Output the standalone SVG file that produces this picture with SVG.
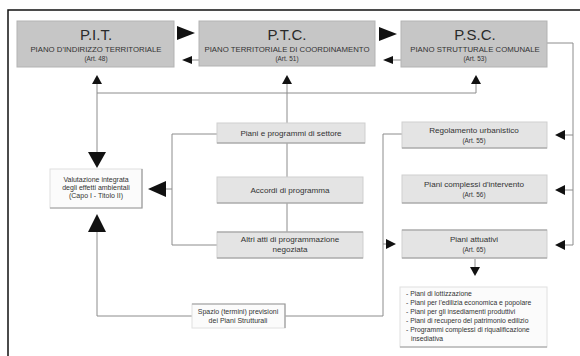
<svg xmlns="http://www.w3.org/2000/svg" width="580" height="356" viewBox="0 0 580 356">
  <style>
    .bg { fill: #ffffff; }
    .frame { fill: none; stroke: #111; stroke-width: 1.5; }
    .main { fill: #c6c6c6; stroke: #b3b3b3; stroke-width: 1; }
    .sub { fill: #e4e4e4; stroke: #cfcfcf; stroke-width: 1; }
    .shade { fill: none; stroke: #9a9a9a; stroke-width: 1.2; }
    .note { fill: #fbfbfb; stroke: #e0e0e0; stroke-width: 1; }
    .line { fill: none; stroke: #8c8c8c; stroke-width: 1; }
    .head { fill: #111; }
    .t { font-family: "Liberation Sans", Arial, sans-serif; fill: #333; text-anchor: middle; }
    .title { font-size: 15px; fill: #2a2a2a; }
    .cap { font-size: 7.8px; }
    .mid { font-size: 8.1px; }
    .small { font-size: 6.4px; }
    .note-t { font-size: 7px; }
    .lst { font-family: "Liberation Sans", Arial, sans-serif; fill: #333; font-size: 6.8px; }
  </style>

  <rect class="bg" x="0" y="0" width="580" height="356"/>
  <!-- page frame -->
  <path class="frame" d="M8,356 V10 H580"/>

  <!-- connectors -->
  <g id="connectors">
    <!-- top row links -->
    <polygon class="head" points="177,26 195,33 177,40"/>
    <polygon class="head" points="379,27 397,34 379,41"/>
    <path class="line" d="M192,60 H199"/>
    <polygon class="head" points="182,60 192,56 192,64"/>
    <path class="line" d="M393,60 H401"/>
    <polygon class="head" points="383,60 393,56 393,64"/>

    <!-- feedback bar below top row -->
    <path class="line" d="M97,83 V152 M287,83 V232 M476,83 V93 M97,93 H476"/>
    <polygon class="head" points="97,75 92,84 102,84"/>
    <polygon class="head" points="287,75 282,84 292,84"/>
    <polygon class="head" points="476,75 471,84 481,84"/>
    <polygon class="head" points="88,152 106,152 97,168"/>

    <!-- sector plans to valutazione -->
    <path class="line" d="M165,189 H172 M172,134 V245 M172,134 H217 M172,245 H217"/>
    <polygon class="head" points="148,189 166,181 166,197"/>

    <!-- PSC to operative tools -->
    <path class="line" d="M547,43 H573 V245 M565,135 H573 M565,190 H573 M565,245 H573"/>
    <polygon class="head" points="555,135 565,130 565,140"/>
    <polygon class="head" points="555,190 565,185 565,195"/>
    <polygon class="head" points="555,245 565,240 565,250"/>

    <!-- regolamento to piani attuativi and spazi -->
    <path class="line" d="M383,134 H402 M383,134 V316 M285,316 H383 M383,244 H386"/>
    <polygon class="head" points="396,244 386,239 386,249"/>

    <!-- spazi to valutazione -->
    <path class="line" d="M97,232 V316 H192"/>
    <polygon class="head" points="97,214 88,232 106,232"/>

    <!-- piani attuativi to list -->
    <path class="line" d="M475,259 V267"/>
    <polygon class="head" points="470,267 480,267 475,276"/>
  </g>

  <g id="pit">
    <rect class="main" x="17" y="21" width="157" height="46"/>
    <text class="t title" x="96" y="40">P.I.T.</text>
    <text class="t cap" x="96" y="52">PIANO D'INDIRIZZO TERRITORIALE</text>
    <text class="t small" x="96" y="61">(Art. 48)</text>
  </g>

  <g id="ptc">
    <rect class="main" x="199" y="21" width="176" height="45"/>
    <text class="t title" x="287" y="40">P.T.C.</text>
    <text class="t cap" x="287" y="52">PIANO TERRITORIALE DI COORDINAMENTO</text>
    <text class="t small" x="287" y="61">(Art. 51)</text>
  </g>

  <g id="psc">
    <rect class="main" x="401" y="21" width="146" height="46"/>
    <text class="t title" x="475" y="40">P.S.C.</text>
    <text class="t cap" x="475" y="52">PIANO STRUTTURALE COMUNALE</text>
    <text class="t small" x="475" y="61">(Art. 53)</text>
  </g>

  <g id="valutazione">
    <rect class="note" x="50" y="169" width="92" height="39"/>
    <path class="shade" d="M50,208 H142 V169"/>
    <text class="t note-t" x="96" y="182">Valutazione integrata</text>
    <text class="t note-t" x="96" y="190">degli effetti ambientali</text>
    <text class="t note-t" x="96" y="198">(Capo I - Titolo II)</text>
  </g>

  <g id="settore">
    <rect class="sub" x="217" y="123" width="148" height="20"/>
    <path class="shade" d="M217,143 H365"/>
    <text class="t mid" x="291" y="136">Piani e programmi di settore</text>
  </g>

  <g id="accordi">
    <rect class="sub" x="217" y="177" width="146" height="26"/>
    <path class="shade" d="M217,203 H363"/>
    <text class="t mid" x="290" y="193">Accordi di programma</text>
  </g>

  <g id="altri-atti">
    <rect class="sub" x="217" y="232" width="146" height="26"/>
    <path class="shade" d="M217,232 H363 M217,258 H363"/>
    <text class="t mid" x="290" y="242">Altri atti di programmazione</text>
    <text class="t mid" x="290" y="252">negoziata</text>
  </g>

  <g id="regolamento">
    <rect class="sub" x="402" y="122" width="145" height="26"/>
    <path class="shade" d="M402,148 H547"/>
    <text class="t mid" x="474" y="133">Regolamento urbanistico</text>
    <text class="t small" x="474" y="143">(Art. 55)</text>
  </g>

  <g id="piani-complessi">
    <rect class="sub" x="402" y="175" width="145" height="28"/>
    <path class="shade" d="M402,203 H547"/>
    <text class="t mid" x="474" y="187">Piani complessi d'intervento</text>
    <text class="t small" x="474" y="197">(Art. 56)</text>
  </g>

  <g id="piani-attuativi">
    <rect class="sub" x="402" y="230" width="145" height="28"/>
    <path class="shade" d="M402,230 H547 M402,258 H547"/>
    <text class="t mid" x="474" y="242">Piani attuativi</text>
    <text class="t small" x="474" y="252">(Art. 65)</text>
  </g>

  <g id="elenco-attuativi">
    <rect class="note" x="400" y="287" width="147" height="60"/>
    <path class="shade" d="M400,347 H547"/>
    <text class="lst" x="406" y="296">- Piani di lottizzazione</text>
    <text class="lst" x="406" y="305">- Piani per l'edilizia economica e popolare</text>
    <text class="lst" x="406" y="314">- Piani per gli insediamenti produttivi</text>
    <text class="lst" x="406" y="323">- Piani di recupero del patrimonio edilizio</text>
    <text class="lst" x="406" y="332">- Programmi complessi di riqualificazione</text>
    <text class="lst" x="411" y="341">insediativa</text>
  </g>

  <g id="salvaguardie">
    <rect class="note" x="192" y="304" width="93" height="24"/>
    <path class="shade" d="M192,304 H285 V328"/>
    <text class="t note-t" x="238" y="314">Spazio (termini) previsioni</text>
    <text class="t note-t" x="238" y="323">dei Piani Strutturali</text>
  </g>
</svg>
